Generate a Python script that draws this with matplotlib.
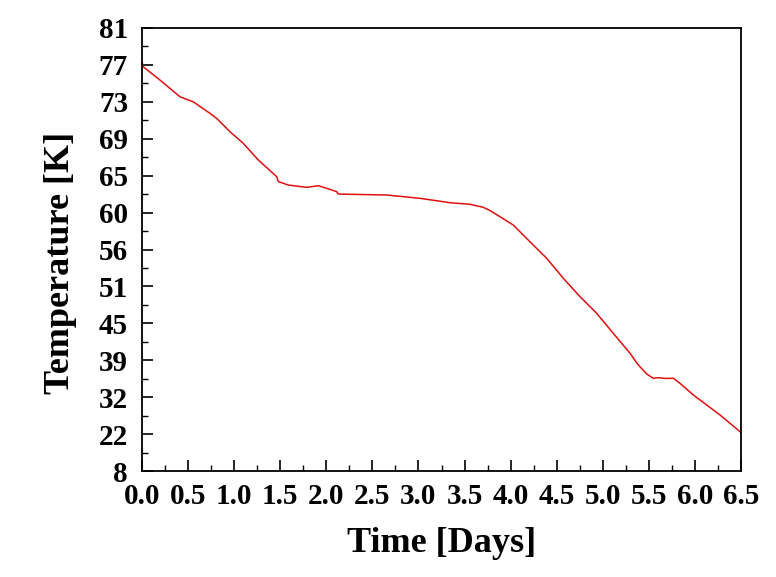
import numpy as np
import matplotlib
matplotlib.use("Agg")
import matplotlib.pyplot as plt
from matplotlib.ticker import FixedLocator, FixedFormatter

# Y tick labels (evenly spaced on the axis)
y_ticks = [8, 22, 32, 39, 45, 51, 56, 60, 65, 69, 73, 77, 81]
x_ticks = [0.0, 0.5, 1.0, 1.5, 2.0, 2.5, 3.0, 3.5, 4.0, 4.5, 5.0, 5.5, 6.0, 6.5]

# Temperature curve
time_days = [0.0, 0.014, 0.195, 0.412, 0.557, 0.738, 0.811, 0.955, 1.099, 1.262,
             1.462, 1.479, 1.588, 1.787, 1.913, 2.004, 2.113, 2.130, 2.655, 3.017,
             3.342, 3.559, 3.704, 3.776, 3.885, 4.029, 4.21, 4.392, 4.572, 4.753,
             4.934, 5.114, 5.296, 5.386, 5.477, 5.549, 5.60, 5.68, 5.766, 5.838,
             5.983, 6.128, 6.273, 6.49, 6.5]
temperature = [77.34, 76.8, 75.36, 73.55, 73.0, 71.75, 71.2, 69.76, 68.5, 66.7,
               64.86, 64.2, 63.73, 63.42, 63.64, 63.29, 62.83, 62.51, 62.38, 61.93,
               61.34, 61.12, 60.71, 60.28, 59.55, 58.65, 56.84, 54.8, 52.1, 49.33,
               46.63, 43.38, 40.13, 38.1, 36.39, 35.58, 35.7, 35.55, 35.58, 34.63,
               32.41, 29.88, 27.17, 22.64, 22.4]

idx = np.arange(len(y_ticks), dtype=float)
tv = np.array(y_ticks, dtype=float)


def fwd(v):
    v = np.asarray(v, dtype=float)
    out = np.interp(v, tv, idx)
    out = np.where(v < tv[0], (v - tv[0]) / (tv[1] - tv[0]), out)
    out = np.where(v > tv[-1], idx[-1] + (v - tv[-1]) / (tv[-1] - tv[-2]), out)
    return out


def inv(p):
    p = np.asarray(p, dtype=float)
    out = np.interp(p, idx, tv)
    out = np.where(p < 0, tv[0] + p * (tv[1] - tv[0]), out)
    out = np.where(p > idx[-1], tv[-1] + (p - idx[-1]) * (tv[-1] - tv[-2]), out)
    return out


plt.rcParams['font.family'] = ['Liberation Serif', 'DejaVu Serif']
plt.rcParams['font.weight'] = 'bold'

fig = plt.figure(figsize=(7.76, 5.77), dpi=100)
ax = fig.add_axes([142 / 776, 1 - 471 / 577, (741 - 142) / 776, (471 - 28) / 577])

ax.plot(time_days, temperature, color='#e01010', lw=1.1)

ax.set_yscale('function', functions=(fwd, inv))
ax.set_ylim(8, 81)
ax.set_xlim(0, 6.5)

ax.yaxis.set_major_locator(FixedLocator(y_ticks))
ax.yaxis.set_major_formatter(FixedFormatter([str(v) for v in y_ticks]))
minor_y = inv(idx[:-1] + 0.5)
ax.yaxis.set_minor_locator(FixedLocator(list(minor_y)))

ax.xaxis.set_major_locator(FixedLocator(x_ticks))
ax.xaxis.set_major_formatter(FixedFormatter([f"{v:.1f}" for v in x_ticks]))
ax.xaxis.set_minor_locator(FixedLocator(list(np.arange(0.25, 6.5, 0.5))))

ax.tick_params(which='major', direction='in', length=8, width=1.2, labelsize=21,
               top=False, right=False)
ax.tick_params(which='minor', direction='in', length=4, width=1.0,
               top=False, right=False)
ax.tick_params(axis='x', pad=9)
ax.tick_params(axis='y', pad=10)

for s in ax.spines.values():
    s.set_linewidth(1.3)

ax.set_xlabel('Time [Days]', fontsize=26, fontweight='bold', labelpad=12)
ax.set_ylabel('Temperature [K]', fontsize=26, fontweight='bold')
ax.yaxis.set_label_coords(-0.108, 0.47)

fig.savefig('out.png', dpi=100)
